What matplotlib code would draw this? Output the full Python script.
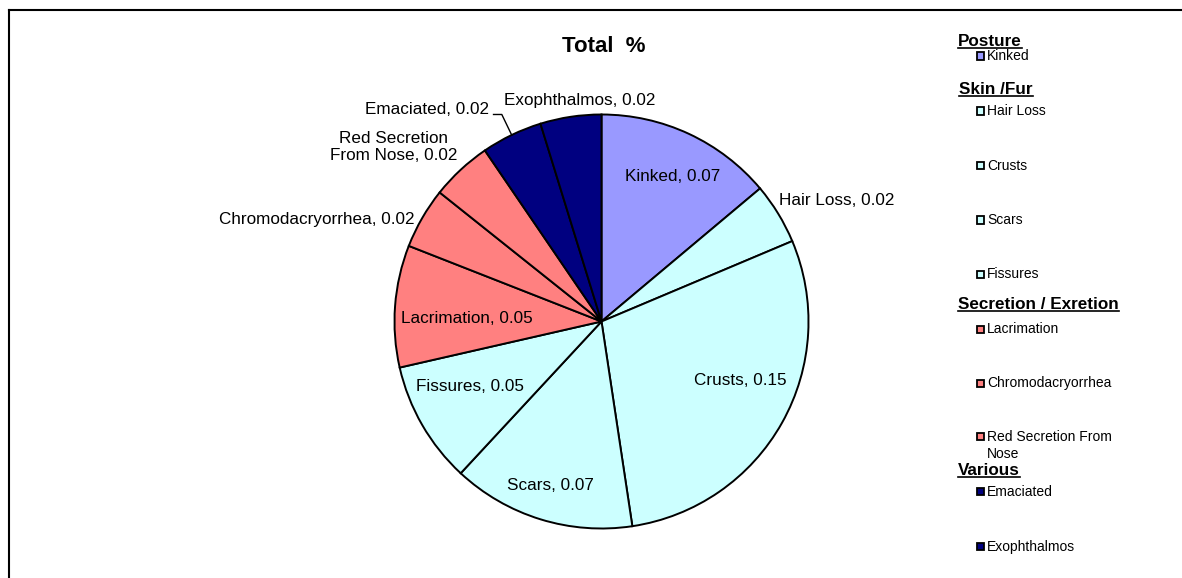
import numpy as np
import matplotlib
matplotlib.use('Agg')
import matplotlib.pyplot as plt
from matplotlib.patches import Rectangle
from matplotlib.lines import Line2D

plt.rcParams['font.family'] = ['Liberation Sans', 'DejaVu Sans']

# data
categories = ['Kinked', 'Hair Loss', 'Crusts', 'Scars', 'Fissures',
              'Lacrimation', 'Chromodacryorrhea', 'Red Secretion From Nose',
              'Emaciated', 'Exophthalmos']
values = [0.07, 0.024, 0.146, 0.072, 0.048, 0.048, 0.024, 0.024, 0.024, 0.024]
groups = ['Posture', 'Skin /Fur', 'Skin /Fur', 'Skin /Fur', 'Skin /Fur',
          'Secretion / Exretion', 'Secretion / Exretion', 'Secretion / Exretion',
          'Various', 'Various']
group_names = ['Posture', 'Skin /Fur', 'Secretion / Exretion', 'Various']
group_colors = {'Posture': '#9999FF', 'Skin /Fur': '#CCFFFF',
                'Secretion / Exretion': '#FF8080', 'Various': '#000080'}
slice_labels = ['Kinked', 'Hair Loss', 'Crusts', 'Scars', 'Fissures',
                'Lacrimation', 'Chromodacryorrhea', 'Red Secretion\nFrom Nose',
                'Emaciated', 'Exophthalmos']
legend_labels = ['Kinked', 'Hair Loss', 'Crusts', 'Scars', 'Fissures',
                 'Lacrimation', 'Chromodacryorrhea', 'Red Secretion From\nNose',
                 'Emaciated', 'Exophthalmos']

W, H = 1182, 578
fig = plt.figure(figsize=(W / 100, H / 100), dpi=100)


def fx(px):
    return px / W


def fy(py):
    return 1 - py / H


# pie
cx, cy, R = 601.5, 321.5, 207
ax = fig.add_axes([fx(cx - R), fy(cy + R), 2 * R / W, 2 * R / H])
colors = [group_colors[g] for g in groups]
wedges, _ = ax.pie(values, colors=colors, startangle=90, counterclock=False,
                   radius=1, wedgeprops=dict(edgecolor='black', linewidth=1.4))
ax.set_xlim(-1, 1)
ax.set_ylim(-1, 1)
ax.axis('off')

# label placement (radius, clockwise angle offset, alignment)
lab_r = [0.78, 1.04, 0.73, 0.83, 0.71, 0.65, 1.03, 1.095, 1.16, 1.075]
lab_da = [1.3, -2.8, -6.4, 0.3, 3.7, -2.8, -1.3, 3.3, -2.2, 2.9]
lab_ha = ['center', 'left', 'center', 'center', 'center', 'center',
          'right', 'right', 'right', 'center']
for i, w in enumerate(wedges):
    mid = (w.theta1 + w.theta2) / 2
    a = np.deg2rad(mid - lab_da[i])
    x, y = lab_r[i] * np.cos(a), lab_r[i] * np.sin(a)
    ax.text(x, y, f'{slice_labels[i]}, {values[i]:.2f}', ha=lab_ha[i],
            va='center', fontsize=12.3, multialignment='center',
            color='black', clip_on=False)

# leader line for Emaciated
w = wedges[categories.index('Emaciated')]
m = np.deg2rad((w.theta1 + w.theta2) / 2)
p0 = (np.cos(m), np.sin(m))
p1 = (1.11 * np.cos(m), 1.11 * np.sin(m))
ax.plot([p0[0], p1[0], p1[0] - 0.04], [p0[1], p1[1], p1[1]],
        color='black', lw=1.0, clip_on=False)

fig.text(fx(603.8), fy(46.5), 'Total  %', fontsize=16, fontweight='bold',
         ha='center', va='center')

# legend
header_x = [958, 959, 958, 958]
header_base = [46, 94, 309, 475]
item_y = [56, 111, 165.7, 220, 274.3, 329.3, 383.3, 445.3, 491.7, 546.7]
headers = []
for g, hx, hb in zip(group_names, header_x, header_base):
    t = fig.text(fx(hx), fy(hb), g, fontsize=12.3, fontweight='bold',
                 ha='left', va='baseline')
    headers.append((t, hb))

for i, lab in enumerate(legend_labels):
    yc = item_y[i]
    if '\n' in lab:
        yc_mark = yc - 8.7
    else:
        yc_mark = yc
    fig.patches.append(Rectangle((fx(976.5), fy(yc_mark + 3.6)), 7.2 / W, 7.2 / H,
                                 transform=fig.transFigure,
                                 facecolor=colors[i], edgecolor='black', lw=1.3))
    fig.text(fx(987), fy(yc), lab, fontsize=10, ha='left', va='center',
             linespacing=1.25)

fig.canvas.draw()
renderer = fig.canvas.get_renderer()
for t, hb in headers:
    bb = t.get_window_extent(renderer)
    fig.lines.append(Line2D([bb.x0 / W, bb.x1 / W], [fy(hb + 1.8), fy(hb + 1.8)],
                            transform=fig.transFigure, color='black', lw=1.2))

# chart border (top and left edges)
fig.lines.append(Line2D([fx(9.5), fx(9.5)], [fy(10), 0],
                        transform=fig.transFigure, color='black', lw=1.5))
fig.lines.append(Line2D([fx(9.5), 1], [fy(10), fy(10)],
                        transform=fig.transFigure, color='black', lw=1.5))

fig.savefig('out.png', dpi=100)
